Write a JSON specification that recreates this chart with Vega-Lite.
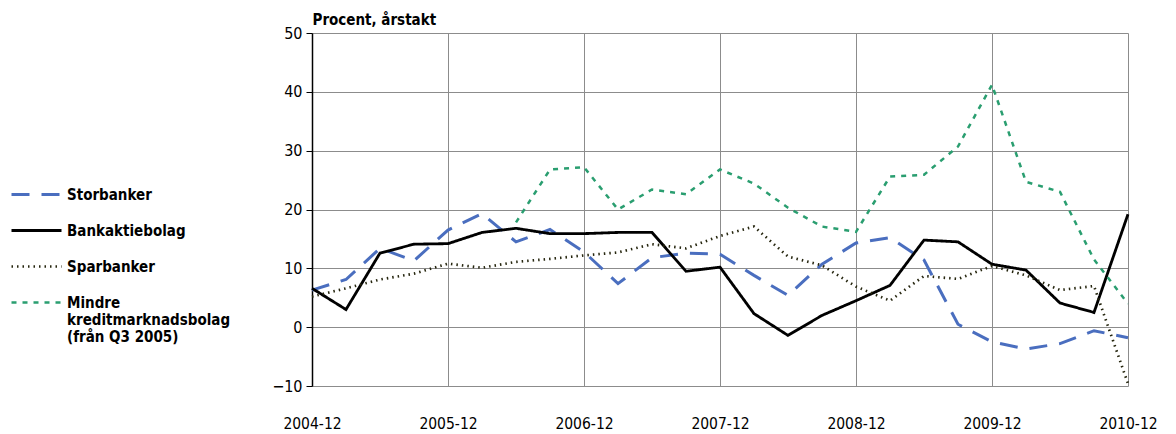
{
  "$schema": "https://vega.github.io/schema/vega-lite/v6.json",
  "width": 816,
  "height": 353,
  "autosize": {"type": "none"},
  "padding": {"left": 312, "top": 33, "right": 48, "bottom": 48},
  "background": "white",
  "config": {
    "font": "DejaVu Sans Condensed",
    "view": {"stroke": null},
    "legend": {
      "title": null,
      "orient": "none",
      "legendX": -287,
      "legendY": 150,
      "symbolType": "M-2.5,0H2.5",
      "symbolSize": 400,
      "labelFontSize": 15,
      "labelFontWeight": "bold",
      "labelColor": "#000000",
      "labelOffset": 19,
      "labelLimit": 0,
      "rowPadding": 16
    }
  },
  "data": {
    "values": [
      {"d": "2004-12", "Storbanker": 6.3, "Bankaktiebolag": 6.6, "Sparbanker": 5.2, "Mindre": null},
      {"d": "2005-03", "Storbanker": 8.1, "Bankaktiebolag": 3.0, "Sparbanker": 6.6, "Mindre": null},
      {"d": "2005-06", "Storbanker": 13.4, "Bankaktiebolag": 12.6, "Sparbanker": 8.1, "Mindre": null},
      {"d": "2005-09", "Storbanker": 11.3, "Bankaktiebolag": 14.1, "Sparbanker": 9.1, "Mindre": null},
      {"d": "2005-12", "Storbanker": 16.5, "Bankaktiebolag": 14.2, "Sparbanker": 10.8, "Mindre": null},
      {"d": "2006-03", "Storbanker": 19.3, "Bankaktiebolag": 16.1, "Sparbanker": 10.1, "Mindre": null},
      {"d": "2006-06", "Storbanker": 14.5, "Bankaktiebolag": 16.8, "Sparbanker": 11.1, "Mindre": 17.8},
      {"d": "2006-09", "Storbanker": 16.6, "Bankaktiebolag": 15.9, "Sparbanker": 11.6, "Mindre": 26.8},
      {"d": "2006-12", "Storbanker": 12.8, "Bankaktiebolag": 15.9, "Sparbanker": 12.2, "Mindre": 27.2},
      {"d": "2007-03", "Storbanker": 7.4, "Bankaktiebolag": 16.1, "Sparbanker": 12.7, "Mindre": 20.0},
      {"d": "2007-06", "Storbanker": 11.8, "Bankaktiebolag": 16.1, "Sparbanker": 14.1, "Mindre": 23.4},
      {"d": "2007-09", "Storbanker": 12.6, "Bankaktiebolag": 9.5, "Sparbanker": 13.4, "Mindre": 22.6},
      {"d": "2007-12", "Storbanker": 12.4, "Bankaktiebolag": 10.2, "Sparbanker": 15.5, "Mindre": 26.8},
      {"d": "2008-03", "Storbanker": 8.8, "Bankaktiebolag": 2.3, "Sparbanker": 17.1, "Mindre": 24.4},
      {"d": "2008-06", "Storbanker": 5.4, "Bankaktiebolag": -1.4, "Sparbanker": 12.0, "Mindre": 20.3},
      {"d": "2008-09", "Storbanker": 10.7, "Bankaktiebolag": 2.0, "Sparbanker": 10.5, "Mindre": 17.1},
      {"d": "2008-12", "Storbanker": 14.3, "Bankaktiebolag": 4.5, "Sparbanker": 6.9, "Mindre": 16.2},
      {"d": "2009-03", "Storbanker": 15.2, "Bankaktiebolag": 7.1, "Sparbanker": 4.5, "Mindre": 25.6},
      {"d": "2009-06", "Storbanker": 11.4, "Bankaktiebolag": 14.8, "Sparbanker": 8.7, "Mindre": 25.9},
      {"d": "2009-09", "Storbanker": 0.5, "Bankaktiebolag": 14.5, "Sparbanker": 8.2, "Mindre": 30.7},
      {"d": "2009-12", "Storbanker": -2.5, "Bankaktiebolag": 10.7, "Sparbanker": 10.4, "Mindre": 41.2},
      {"d": "2010-03", "Storbanker": -3.7, "Bankaktiebolag": 9.7, "Sparbanker": 8.8, "Mindre": 24.7},
      {"d": "2010-06", "Storbanker": -2.8, "Bankaktiebolag": 4.1, "Sparbanker": 6.3, "Mindre": 23.0},
      {"d": "2010-09", "Storbanker": -0.6, "Bankaktiebolag": 2.5, "Sparbanker": 7.0, "Mindre": 11.5},
      {"d": "2010-12", "Storbanker": -1.8, "Bankaktiebolag": 19.2, "Sparbanker": -9.6, "Mindre": 4.0}
    ]
  },
  "transform": [
    {"fold": ["Storbanker", "Bankaktiebolag", "Sparbanker", "Mindre"], "as": ["serie", "v"]}
  ],
  "mark": {"type": "line", "strokeCap": "butt", "strokeJoin": "miter"},
  "encoding": {
    "x": {
      "field": "d",
      "type": "ordinal",
      "sort": null,
      "scale": {"type": "point", "padding": 0},
      "axis": {
        "title": null,
        "values": ["2004-12", "2005-12", "2006-12", "2007-12", "2008-12", "2009-12", "2010-12"],
        "labelAngle": 0,
        "labelFontSize": 15.5,
        "labelColor": "#000000",
        "labelPadding": 30,
        "ticks": false,
        "domain": false,
        "grid": true,
        "gridColor": "#8c8c8c",
        "gridWidth": 1
      }
    },
    "y": {
      "field": "v",
      "type": "quantitative",
      "scale": {"domain": [-10, 50], "nice": false},
      "axis": {
        "values": [-10, 0, 10, 20, 30, 40, 50],
        "title": "Procent, årstakt",
        "titleAngle": 0,
        "titleAlign": "left",
        "titleBaseline": "middle",
        "titleX": 0,
        "titleY": -14,
        "titleFontSize": 15,
        "titleFontWeight": "bold",
        "titleColor": "#000000",
        "labelFontSize": 16,
        "labelColor": "#000000",
        "labelPadding": 4,
        "domainColor": "#000000",
        "domainWidth": 1.5,
        "tickColor": "#000000",
        "tickSize": 6,
        "grid": true,
        "gridColor": "#8c8c8c",
        "gridWidth": 1
      }
    },
    "color": {
      "field": "serie",
      "type": "nominal",
      "scale": {
        "domain": ["Storbanker", "Bankaktiebolag", "Sparbanker", "Mindre"],
        "range": ["#4a6ebf", "#000000", "#26260f", "#2a9e70"]
      },
      "legend": {
        "labelExpr": "datum.label == 'Mindre' ? ['Mindre', 'kreditmarknadsbolag', '(från Q3 2005)'] : datum.label",
        "encoding": {
          "labels": {
            "update": {
              "dy": {"signal": "datum.value == 'Mindre' ? 19 : 0"},
              "lineHeight": {"value": 19}
            }
          }
        }
      }
    },
    "strokeDash": {
      "field": "serie",
      "type": "nominal",
      "scale": {
        "domain": ["Storbanker", "Bankaktiebolag", "Sparbanker", "Mindre"],
        "range": [[18, 12], [1, 0], [1.5, 4], [5, 6]]
      },
      "legend": {
        "labelExpr": "datum.label == 'Mindre' ? ['Mindre', 'kreditmarknadsbolag', '(från Q3 2005)'] : datum.label",
        "encoding": {
          "labels": {
            "update": {
              "dy": {"signal": "datum.value == 'Mindre' ? 19 : 0"},
              "lineHeight": {"value": 19}
            }
          }
        }
      }
    },
    "strokeWidth": {
      "field": "serie",
      "type": "nominal",
      "scale": {
        "domain": ["Storbanker", "Bankaktiebolag", "Sparbanker", "Mindre"],
        "range": [3, 2.5, 1.3, 3.5]
      },
      "legend": {
        "labelExpr": "datum.label == 'Mindre' ? ['Mindre', 'kreditmarknadsbolag', '(från Q3 2005)'] : datum.label",
        "encoding": {
          "labels": {
            "update": {
              "dy": {"signal": "datum.value == 'Mindre' ? 19 : 0"},
              "lineHeight": {"value": 19}
            }
          }
        }
      }
    }
  }
}
